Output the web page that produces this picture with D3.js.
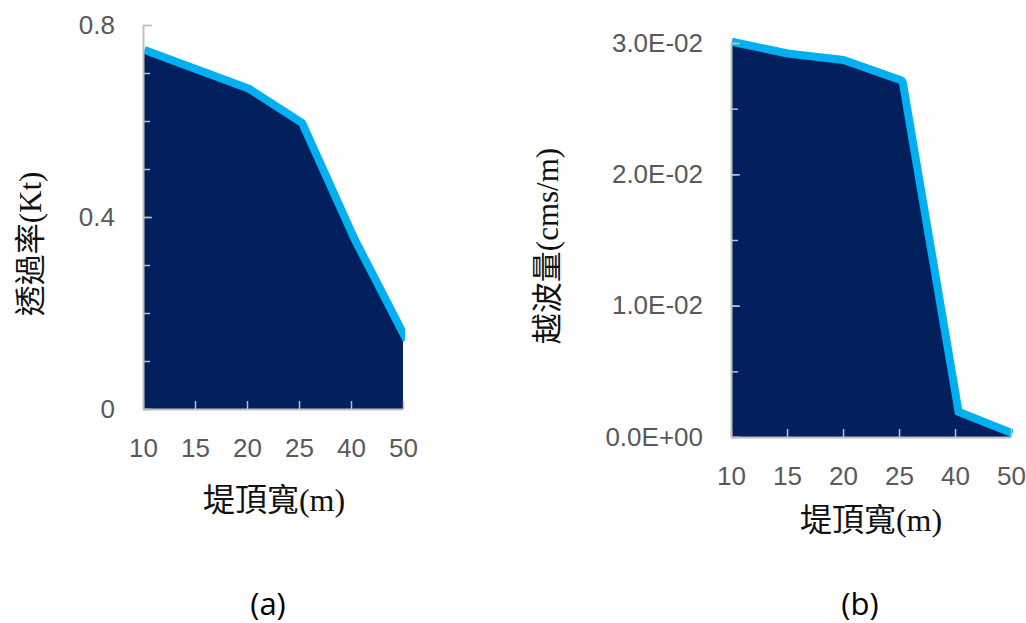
<!DOCTYPE html>
<html>
<head>
<meta charset="utf-8">
<script src="https://cdn.jsdelivr.net/npm/d3@7"></script>
<style>
  body { margin: 0; background: #fff; }
  svg { display: block; }
</style>
</head>
<body>
<script>
// 堤頂寬 categories (shared by both panels)
var widths = ['10', '15', '20', '25', '40', '50']
// (a) 透過率 Kt
var ktValues = [0.74, 0.70, 0.66, 0.59, 0.35, 0.14]
// (b) 越波量 cms/m
var overtopValues = [0.0298, 0.0289, 0.0284, 0.0269, 0.0017, 0.0]

var ktMajor = [0, 0.4, 0.8]
var overtopMajor = [0, 0.01, 0.02, 0.03]

var fillColor = '#03205e'
var lineColor = '#00b0f0'
var axisColor = '#bfbfbf'
var labelColor = '#595959'

var svg = d3.select('body').append('svg').attr('width', 1026).attr('height', 623)

function panel(opt) {
    var x = d3.scalePoint().domain(widths).range([opt.left, opt.right]).padding(0)
    var y = d3.scaleLinear().domain(opt.domain).range([opt.bottom, opt.top])
    var g = svg.append('g')
    var id = 'clip-' + opt.name.replace(/[()]/g, '')

    g.append('clipPath').attr('id', id).append('rect')
        .attr('x', opt.left).attr('y', opt.top - 30)
        .attr('width', opt.right - opt.left + 2).attr('height', opt.bottom - opt.top + 30)

    var data = widths.map(function (w, i) { return {w: w, v: opt.values[i]} })

    // thick line first, area over it so only the upper half shows
    g.append('path').datum(data)
        .attr('clip-path', 'url(#' + id + ')')
        .attr('fill', 'none')
        .attr('stroke', lineColor)
        .attr('stroke-width', 16)
        .attr('stroke-linejoin', 'round')
        .attr('d', d3.line().x(function (d) { return x(d.w) }).y(function (d) { return y(d.v) }))

    g.append('path').datum(data)
        .attr('fill', fillColor)
        .attr('d', d3.area().x(function (d) { return x(d.w) }).y0(y(0)).y1(function (d) { return y(d.v) }))

    // minor ticks
    var minor = g.append('g').attr('transform', 'translate(' + opt.left + ',0)')
        .call(d3.axisLeft(y).tickValues(opt.minor).tickSize(-7).tickSizeOuter(0).tickFormat(''))
    minor.select('.domain').remove()
    minor.selectAll('line').attr('stroke', axisColor).attr('stroke-width', 1.5)

    // major y axis
    var yAxis = g.append('g').attr('transform', 'translate(' + opt.left + ',0)')
        .call(d3.axisLeft(y).tickValues(opt.major).tickSize(-9).tickSizeOuter(0)
            .tickPadding(opt.labelGap).tickFormat(opt.format))
    yAxis.select('.domain').attr('stroke', axisColor).attr('stroke-width', 2)
    yAxis.selectAll('line').attr('stroke', axisColor).attr('stroke-width', 1.5)
    yAxis.selectAll('text').attr('fill', labelColor)
        .style('font-family', '"Liberation Sans", Arial, sans-serif').style('font-size', '26px')

    // x axis
    var xAxis = g.append('g').attr('transform', 'translate(0,' + opt.bottom + ')')
        .call(d3.axisBottom(x).tickSize(-8).tickSizeOuter(0).tickPadding(30))
    xAxis.select('.domain').attr('stroke', axisColor).attr('stroke-width', 2)
    xAxis.selectAll('line').attr('stroke', axisColor).attr('stroke-width', 1.5)
    xAxis.selectAll('text').attr('fill', labelColor)
        .style('font-family', '"Liberation Sans", Arial, sans-serif').style('font-size', '26px')

    var titleFont = '"Liberation Serif", "Noto Sans CJK TC", serif'
    g.append('text')
        .attr('x', opt.xTitle[0]).attr('y', opt.xTitle[1])
        .attr('text-anchor', 'middle').attr('dominant-baseline', 'central')
        .style('font-family', titleFont).style('font-size', '32px').attr('fill', '#111')
        .text('堤頂寬(m)')
    g.append('text')
        .attr('transform', 'translate(' + opt.yTitle[0] + ',' + opt.yTitle[1] + ') rotate(-90)')
        .attr('text-anchor', 'middle').attr('dominant-baseline', 'central')
        .style('font-family', titleFont).style('font-size', '31px').attr('fill', '#111')
        .text(opt.yLabel)
    g.append('text')
        .attr('x', opt.caption[0]).attr('y', opt.caption[1])
        .attr('text-anchor', 'middle').attr('dominant-baseline', 'central')
        .style('font-family', '"Open Sans", "Liberation Sans", sans-serif').style('font-size', '31px').attr('fill', '#000')
        .text(opt.name)
}

function sci(v) {
    var s = v.toExponential(1).split('e')
    var exp = parseInt(s[1], 10)
    return s[0] + 'E' + (exp < 0 ? '-' : '+') + d3.format('02d')(Math.abs(exp))
}

panel({
    name: '(a)', values: ktValues, domain: [0, 0.8],
    left: 143, right: 403, top: 25, bottom: 409,
    major: ktMajor, minor: d3.range(0, 0.81, 0.1),
    format: function (d) { return d === 0 ? '0' : d3.format('.1f')(d) },
    labelGap: 28,
    xTitle: [274, 500], yTitle: [30, 244], yLabel: '透過率(Kt)', caption: [268, 603]
})

panel({
    name: '(b)', values: overtopValues, domain: [0, 0.03],
    left: 731, right: 1011, top: 43, bottom: 437,
    major: overtopMajor, minor: d3.range(0, 0.0301, 0.005),
    format: sci,
    labelGap: 28,
    xTitle: [871, 520], yTitle: [547, 246], yLabel: '越波量(cms/m)', caption: [860, 603]
})
</script>
</body>
</html>
